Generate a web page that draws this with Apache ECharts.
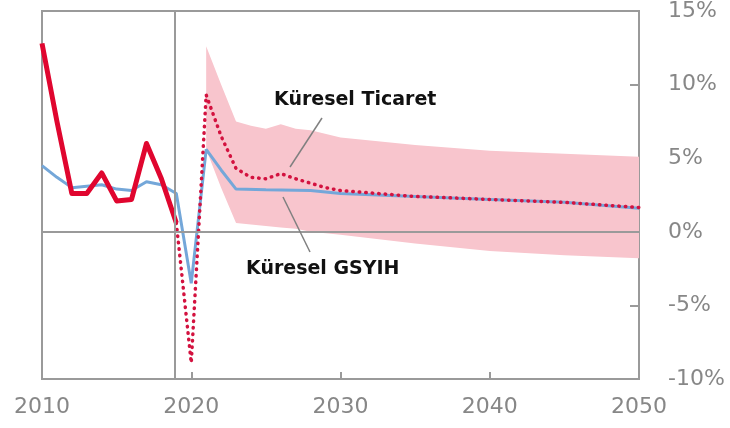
<!DOCTYPE html>
<html>
<head>
<meta charset="utf-8">
<script src="https://cdn.jsdelivr.net/npm/echarts@6/dist/echarts.min.js"></script>
<style>
  html, body { margin: 0; padding: 0; background: #fff; }
  #chart { width: 730px; height: 428px; }
</style>
</head>
<body>
<div id="chart"></div>
<script>
// Küresel ticaret ve GSYİH büyümesi (%)
const tradeHistYears = [2010, 2011, 2012, 2013, 2014, 2015, 2016, 2017, 2018, 2019];
const tradeHistValues = [12.8, 7.5, 2.6, 2.6, 4.0, 2.1, 2.2, 6.0, 3.6, 0.6];

const tradeProjYears = [2019, 2020, 2021, 2022, 2023, 2024, 2025, 2026, 2027, 2028, 2029, 2030, 2035, 2040, 2045, 2050];
const tradeProjValues = [0.6, -8.9, 9.3, 6.5, 4.3, 3.7, 3.6, 3.95, 3.6, 3.3, 3.0, 2.8, 2.4, 2.2, 2.0, 1.65];

const gdpYears = [2010, 2011, 2012, 2013, 2014, 2015, 2016, 2017, 2018, 2019, 2020, 2021, 2022, 2023, 2025, 2028, 2030, 2035, 2040, 2045, 2050];
const gdpValues = [4.5, 3.7, 3.0, 3.1, 3.2, 2.9, 2.8, 3.4, 3.2, 2.6, -3.5, 5.6, 4.2, 2.9, 2.85, 2.8, 2.6, 2.4, 2.2, 2.0, 1.6];

// belirsizlik bandı
const bandYears = [2021, 2022, 2023, 2024, 2025, 2026, 2027, 2028, 2030, 2035, 2040, 2045, 2050];
const bandUpper = [12.6, 10.0, 7.5, 7.2, 7.0, 7.3, 7.0, 6.9, 6.4, 5.9, 5.5, 5.3, 5.1];
const bandLower = [5.6, 3.0, 0.6, 0.5, 0.4, 0.3, 0.2, 0.0, -0.2, -0.8, -1.3, -1.6, -1.8];

const xTicks = [2010, 2020, 2030, 2040, 2050];
const yTicks = [-10, -5, 0, 5, 10, 15];
const projStart = 2018.9;

const pairs = (xs, ys) => xs.map((x, i) => [x, ys[i]]);

const gray = '#9a9a9a';
const labelGray = '#878787';

const chart = echarts.init(document.getElementById('chart'));

const option = {
  animation: false,
  grid: {
    left: 42,
    right: 91,
    top: 8,
    bottom: 49,
    show: true,
    borderColor: gray,
    borderWidth: 2
  },
  xAxis: {
    type: 'value',
    min: xTicks[0],
    max: xTicks[xTicks.length - 1],
    interval: 10,
    splitLine: { show: false },
    axisLine: { show: true, onZero: false, lineStyle: { color: gray, width: 2 } },
    axisTick: { show: true, inside: true, length: 7, lineStyle: { color: gray, width: 2 } },
    axisLabel: {
      color: labelGray,
      fontFamily: 'DejaVu Sans',
      fontSize: 22,
      margin: 17,
      formatter: v => String(v)
    }
  },
  yAxis: {
    type: 'value',
    position: 'right',
    min: yTicks[0],
    max: yTicks[yTicks.length - 1],
    interval: 5,
    splitLine: { show: false },
    axisLine: { show: true, lineStyle: { color: gray, width: 2 } },
    axisTick: { show: true, inside: true, length: 9, lineStyle: { color: gray, width: 2 } },
    axisLabel: {
      color: labelGray,
      fontFamily: 'DejaVu Sans',
      fontSize: 22,
      align: 'left',
      margin: 29,
      formatter: '{value}%'
    }
  },
  series: [
    {
      // alt ve üst sınır arasındaki pembe alan
      name: 'band',
      type: 'custom',
      data: bandYears.map((y, i) => [y, bandLower[i], bandUpper[i]]),
      encode: { x: 0, y: [1, 2] },
      z: 1,
      renderItem: (params, api) => {
        if (params.dataIndex !== 0) return;
        const pts = [];
        for (let i = 0; i < bandYears.length; i++) {
          pts.push(api.coord([bandYears[i], bandUpper[i]]));
        }
        for (let i = bandYears.length - 1; i >= 0; i--) {
          pts.push(api.coord([bandYears[i], bandLower[i]]));
        }
        return {
          type: 'polygon',
          shape: { points: pts },
          style: { fill: '#f8c5cd', stroke: 'none' }
        };
      }
    },
    {
      name: 'Küresel GSYIH',
      type: 'line',
      symbol: 'none',
      lineStyle: { color: '#74a7d9', width: 3 },
      data: pairs(gdpYears, gdpValues),
      z: 3,
      markLine: {
        silent: true,
        symbol: 'none',
        label: { show: false },
        lineStyle: { color: gray, width: 2, type: 'solid' },
        data: [{ yAxis: 0 }, { xAxis: projStart }]
      }
    },
    {
      name: 'Küresel Ticaret (geçmiş)',
      type: 'line',
      symbol: 'none',
      lineStyle: { color: '#e0062f', width: 5, join: 'round' },
      data: pairs(tradeHistYears, tradeHistValues),
      z: 4
    },
    {
      name: 'Küresel Ticaret (projeksiyon)',
      type: 'line',
      symbol: 'none',
      lineStyle: { color: '#d3123f', width: 3.5, type: [0.5, 6], cap: 'round' },
      data: pairs(tradeProjYears, tradeProjValues),
      z: 4
    }
  ],
  graphic: [
    {
      type: 'text',
      left: 274,
      top: 91,
      z: 100,
      style: { text: 'Küresel Ticaret', fill: '#111', font: 'bold 19px "DejaVu Sans"' }
    },
    {
      type: 'text',
      left: 246,
      top: 260,
      z: 100,
      style: { text: 'Küresel GSYIH', fill: '#111', font: 'bold 19px "DejaVu Sans"' }
    },
    {
      type: 'line',
      z: 100,
      shape: { x1: 322, y1: 118, x2: 290, y2: 167 },
      style: { stroke: '#808080', lineWidth: 1.5 }
    },
    {
      type: 'line',
      z: 100,
      shape: { x1: 283, y1: 197, x2: 310, y2: 252 },
      style: { stroke: '#808080', lineWidth: 1.5 }
    }
  ]
};

chart.setOption(option);
</script>
</body>
</html>
